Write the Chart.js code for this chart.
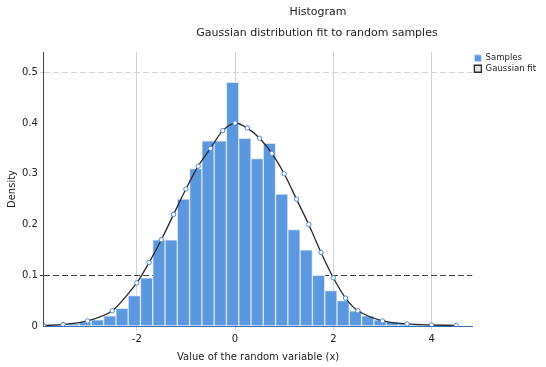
<!DOCTYPE html>
<html><head><meta charset="utf-8">
<script src="https://cdn.jsdelivr.net/npm/chart.js@4"></script>
<style>html,body{margin:0;padding:0;background:#fff}</style>
</head><body>
<canvas id="c" width="546" height="367"></canvas>
<script>
const titleLines = ["Histogram", "Gaussian distribution fit to random samples"];
const xLabel = "Value of the random variable (x)";
const yLabel = "Density";
const legendLabels = ["Samples", "Gaussian fit"];
const xTicks = [-2, 0, 2, 4];
const yTicks = [0, 0.1, 0.2, 0.3, 0.4, 0.5];
const binCenters = [-3.8,-3.55,-3.3,-3.05,-2.8,-2.55,-2.3,-2.05,-1.8,-1.55,-1.3,-1.05,-0.8,-0.55,-0.3,-0.05,0.2,0.45,0.7,0.95,1.2,1.45,1.7,1.95,2.2,2.45,2.7,2.95,3.2,3.45,3.7,3.95,4.2,4.45];
const binDensity = [0.002,0.003,0.005,0.008,0.012,0.02,0.035,0.06,0.095,0.17,0.17,0.25,0.31,0.365,0.365,0.48,0.37,0.33,0.36,0.26,0.19,0.15,0.10,0.07,0.05,0.03,0.02,0.012,0.008,0.005,0.003,0.002,0.001,0.001];
const fitX = [-3.9,-3.5,-3.0,-2.5,-2.0,-1.75,-1.5,-1.25,-1.0,-0.75,-0.5,-0.25,0,0.25,0.5,0.75,1.0,1.25,1.5,1.75,2.0,2.25,2.5,3.0,3.5,4.0,4.5];
const fitY = [0.001,0.003,0.01,0.03,0.085,0.125,0.17,0.22,0.27,0.315,0.35,0.385,0.40,0.39,0.37,0.34,0.30,0.25,0.20,0.145,0.095,0.055,0.03,0.01,0.004,0.002,0.001];

const barData = binCenters.map((x, i) => ({x: x, y: binDensity[i]}));
const lineData = fitX.map((x, i) => ({x: x, y: fitY[i]}));

const titlePlugin = {
  id: 'offsetTitle',
  afterDraw(chart) {
    const ctx = chart.ctx;
    ctx.save();
    ctx.fillStyle = '#222';
    ctx.textAlign = 'center';
    ctx.textBaseline = 'middle';
    ctx.font = '11px "DejaVu Sans"';
    ctx.fillText(titleLines[0], 318, 12);
    ctx.fillText(titleLines[1], 317, 33);
    ctx.restore();
  }
};

new Chart(document.getElementById('c'), {
  type: 'bar',
  data: {
    datasets: [
      {
        type: 'bar', label: legendLabels[0], data: barData,
        backgroundColor: '#5b98e0', borderColor: '#d8e4f2', borderWidth: 1,
        barPercentage: 1, categoryPercentage: 1, order: 2
      },
      {
        type: 'line', label: legendLabels[1], data: lineData,
        borderColor: '#2a2a2a', borderWidth: 1.3, tension: 0.3,
        pointRadius: 2.2, pointBackgroundColor: '#ffffff', pointBorderColor: '#4a88d6', pointBorderWidth: 1,
        order: 1
      }
    ]
  },
  options: {
    responsive: false, animation: false, devicePixelRatio: 1,
    layout: { padding: { top: 52, left: 4, right: 0, bottom: 2 } },
    font: { family: '"DejaVu Sans"' },
    plugins: {
      title: { display: false },
      tooltip: { enabled: false },
      legend: {
        position: 'right', align: 'start',
        labels: { boxWidth: 7, boxHeight: 7, padding: 2, font: { size: 8.5, family: '"DejaVu Sans"' }, color: '#222',
          sort: (a, b) => a.datasetIndex - b.datasetIndex }
      }
    },
    scales: {
      x: {
        type: 'linear', min: -3.89, max: 4.83, offset: false,
        afterBuildTicks: (s) => { s.ticks = xTicks.map(v => ({value: v})); },
        ticks: { font: { size: 10, family: '"DejaVu Sans"' }, color: '#222', padding: 3 },
        grid: { color: '#c9d3df', lineWidth: 1, offset: false, drawTicks: true, tickLength: 4 },
        border: { color: '#3a6fb5' },
        title: { display: true, text: xLabel, font: { size: 10, family: '"DejaVu Sans"' }, color: '#222', padding: { top: 3, bottom: 2 } }
      },
      y: {
        type: 'linear', min: 0, max: 0.54,
        afterBuildTicks: (s) => { s.ticks = yTicks.map(v => ({value: v})); },
        ticks: { font: { size: 10, family: '"DejaVu Sans"' }, color: '#222', padding: 2, callback: (v) => String(v) },
        grid: {
          color: (c) => (c.tick && c.tick.value === 0.1) ? '#444' : (c.tick && c.tick.value === 0.5 ? '#d5d5d5' : 'rgba(0,0,0,0)'),
          tickLength: 4
        },
        border: { color: '#444', dash: [6, 3] },
        title: { display: true, text: yLabel, font: { size: 10, family: '"DejaVu Sans"' }, color: '#222', padding: 2 }
      }
    }
  },
  plugins: [titlePlugin]
});
</script>
</body></html>
